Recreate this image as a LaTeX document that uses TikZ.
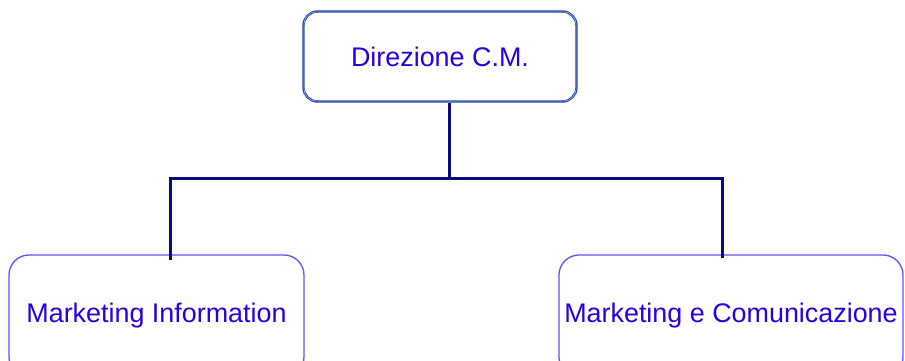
\documentclass[tikz,border=0pt]{standalone}
\usepackage{fontspec}
\setmainfont{Liberation Sans}
\definecolor{txtblue}{RGB}{40,0,225}
\definecolor{linknavy}{RGB}{10,10,128}
\definecolor{headedge}{RGB}{35,70,165}
\definecolor{headinner}{RGB}{140,165,225}
\definecolor{unitedge}{RGB}{100,80,255}
\begin{document}
\begin{tikzpicture}[x=1pt,y=1pt,
  labelfont/.style={text=txtblue,font=\fontsize{26.9}{32}\selectfont},
  headbox/.style={draw=headedge,line width=2.4pt,rounded corners=14pt,
    minimum width=273pt,minimum height=90pt,inner sep=0pt,labelfont},
  unitbox/.style={draw=unitedge,line width=1.3pt,rounded corners=20pt,
    minimum height=122pt,inner sep=0pt,labelfont},
  link/.style={draw=linknavy,line width=3pt}]
\useasboundingbox (0,0) rectangle (905,-361);
\clip (0,0) rectangle (905,-361);
\fill[white] (0,0) rectangle (905,-361);
% org chart boxes
\node[unitbox,minimum width=295pt] (mi) at (156.5,-316) {Marketing Information};
\node[unitbox,minimum width=344pt] (mc) at (731,-316) {Marketing e Comunicazione};
\node[headbox] (dir) at (440,-56.5) {Direzione C.M.};
\draw[headinner,line width=0.7pt,rounded corners=12.5pt]
  ([shift={(1.6pt,-1.6pt)}]dir.north west) rectangle ([shift={(-1.6pt,1.6pt)}]dir.south east);
% connector junctions
\coordinate (hub) at (449,-178);
\coordinate (miend) at (170,-260);
\coordinate (mcend) at (722,-258);
% connectors
\draw[link] (dir.south -| hub) -- (hub);
\draw[link] (hub) -| (miend);
\draw[link] (hub) -| (mcend);
\end{tikzpicture}
\end{document}
